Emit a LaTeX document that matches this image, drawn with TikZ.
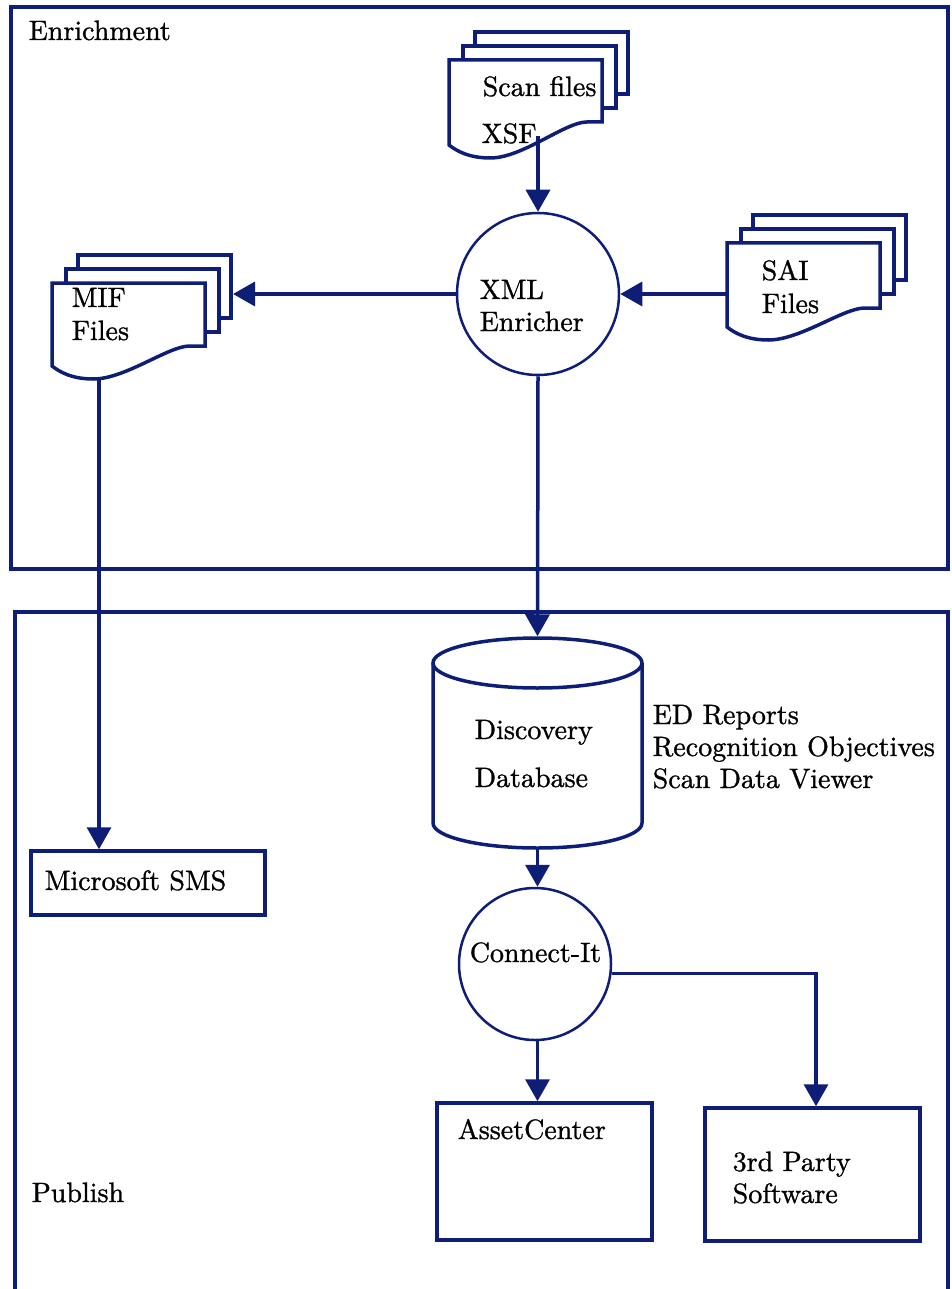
\documentclass[tikz,border=0pt]{standalone}
\usepackage{fontspec}
\setmainfont{lmroman10-regular.otf}[FakeBold=1]
\usetikzlibrary{arrows.meta}
\definecolor{navy}{RGB}{14,30,118}
\newcommand\docstack[5]{%
  \draw (#1+26,#2-14) -- (#1+26,#2-28) -- (#3+26,#2-28) -- (#3+26,#4-28) -- (#3+14,#4-28);
  \draw (#1+14,#2) -- (#1+14,#2-14) -- (#3+14,#2-14) -- (#3+14,#4-14) -- (#3,#4-14);
  \draw[fill=white] (#1,#2) -- (#3,#2) -- (#3,#4) -- ({#3-0.1*(#3-#1)},#4)
    .. controls ({#3-0.24*(#3-#1)},#4) and ({#1+0.48*(#3-#1)},#5+13) .. ({#1+0.27*(#3-#1)},#5+13)
    .. controls ({#1+0.13*(#3-#1)},#5+13) and ({#1+0.05*(#3-#1)},#5+6) .. (#1,#5) -- cycle;}
\begin{document}
\begin{tikzpicture}[x=1pt,y=-1pt,line width=3.5pt,navy,
  every node/.style={font=\fontsize{28}{32}\selectfont,text=black,inner sep=0pt},
  lbl/.style={anchor=base west},
  arr/.style={-{Triangle[width=24pt,length=22pt]}},
  proc/.style={draw,circle,line width=2.5pt,fill=white},
  box/.style={draw,fill=white}]
\useasboundingbox (0,0) rectangle (951,1289);
% frames
\draw (11,7) rectangle (948,569);
\draw (15,1289) -- (15,612) -- (948,612) -- (948,1289);
\node[lbl] (enr) at (27,40) {Enrichment};
\node[lbl] (pub) at (30,1202) {Publish};
% documents
\docstack{449}{60}{602}{122}{145}
\node[lbl] (scan1) at (481,96) {Scan files};
\node[lbl] (scan2) at (480,143) {XSF};
\coordinate (scanbot) at (538,136);
\docstack{52}{283}{205}{346}{366}
\node[lbl] (mif1) at (70,307) {MIF};
\node[lbl] (mif2) at (70,340) {Files};
\coordinate (mifbot) at (99,377);
\coordinate (mifin) at (233,294);
\docstack{727}{243}{880}{308}{327}
\node[lbl] (sai1) at (760,280) {SAI};
\node[lbl] (sai2) at (760,313) {Files};
\coordinate (saiout) at (727,294);
% XML enricher
\node[proc,minimum size=162pt] (xml) at (538,294) {};
\node[lbl] (xml1) at (478,299) {XML};
\node[lbl] (xml2) at (478,331) {Enricher};
% database
\draw[fill=white] (433,663) -- (433,823) arc[start angle=180,end angle=360,x radius=104.5pt,y radius=25pt] -- (642,663);
\draw (537.5,663) ellipse [x radius=104.5pt,y radius=25pt];
\node[minimum width=209pt,minimum height=210pt] (db) at (537.5,743) {};
\node[lbl] (db1) at (473,739) {Discovery};
\node[lbl] (db2) at (473,787) {Database};
\node[lbl] (ed1) at (651,724) {ED Reports};
\node[lbl] (ed2) at (651,756) {Recognition Objectives};
\node[lbl] (ed3) at (651,788) {Scan Data Viewer};
% boxes
\node[box,minimum width=234pt,minimum height=64pt] (sms) at (148,883) {};
\node[lbl] (smst) at (43,890) {Microsoft SMS};
\node[proc,minimum size=152pt] (ci) at (535,964) {};
\node[lbl] (cit) at (468,962) {Connect-It};
\node[box,minimum width=215pt,minimum height=137pt] (ac) at (544.5,1171.5) {};
\node[lbl] (act) at (456,1139) {AssetCenter};
\node[box,minimum width=215pt,minimum height=133pt] (tp) at (812.5,1174.5) {};
\node[lbl] (tp1) at (731,1171) {3rd Party};
\node[lbl] (tp2) at (731,1203) {Software};
% connectors
\draw[arr] (scanbot) -- (xml.north);
\draw[arr] (saiout) -- (xml.east);
\draw[arr] (xml.west) -- (mifin);
\draw[arr] (mifbot) -- (mifbot |- sms.north);
\draw[arr] (xml.south) -- (db.north);
\draw[arr] (db.south) -- (db.south |- ci.north);
\draw[arr] (ci.south -| db.south) -- (db.south |- ac.north);
\draw[arr] (ci.-7) -| ([xshift=3.5pt]tp.north);
\end{tikzpicture}
\end{document}
